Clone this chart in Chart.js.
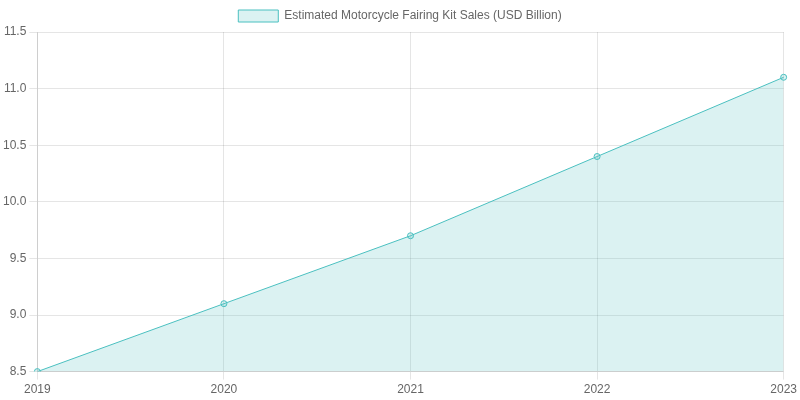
<!DOCTYPE html>
<html>
<head>
<meta charset="utf-8">
<script src="https://cdn.jsdelivr.net/npm/chart.js@4"></script>
<style>
  html, body { margin: 0; padding: 0; background: #fff; }
  #wrap { width: 800px; height: 400px; }
</style>
</head>
<body>
<div id="wrap"><canvas id="chart"></canvas></div>
<script>
const years = ['2019', '2020', '2021', '2022', '2023'];
const sales = [8.5, 9.1, 9.7, 10.4, 11.1];
const seriesLabel = 'Estimated Motorcycle Fairing Kit Sales (USD Billion)';

new Chart(document.getElementById('chart').getContext('2d'), {
  type: 'line',
  data: {
    labels: years,
    datasets: [{
      label: seriesLabel,
      data: sales,
      borderColor: 'rgb(75, 192, 192)',
      backgroundColor: 'rgba(75, 192, 192, 0.2)',
      borderWidth: 1,
      fill: true,
      tension: 0,
      pointRadius: 3,
    }],
  },
  options: {
    responsive: true,
    maintainAspectRatio: false,
    animation: false,
    scales: {
      y: { min: 8.5, max: 11.5, ticks: { stepSize: 0.5, callback: (v) => v.toFixed(1) } },
    },
  },
});
</script>
</body>
</html>
